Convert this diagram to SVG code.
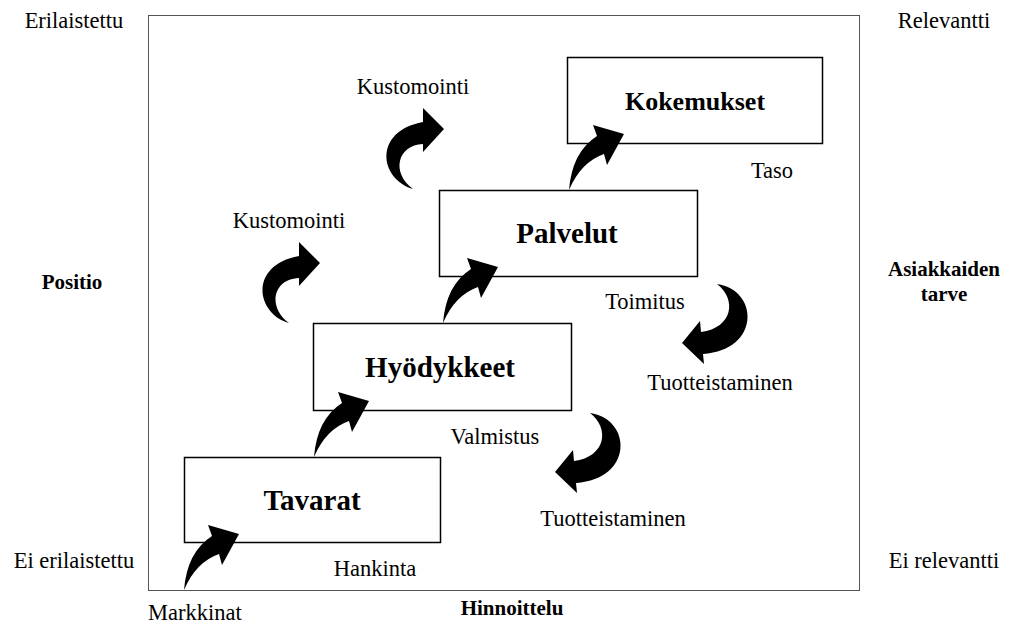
<svg xmlns="http://www.w3.org/2000/svg" width="1019" height="623" viewBox="0 0 1019 623">
<style>
text{font-family:"Liberation Serif","Times New Roman",serif;fill:#000}
.t{font-size:22.5px}
.b{font-size:21px;font-weight:bold}
.n{font-size:29px;font-weight:bold}
.box{fill:#fff;stroke:#000;stroke-width:1.5}
.ar{fill:#000}
</style>
<defs>
<path id="arA" d="M0,0 Q3,-38 28,-54 L24,-65 L55,-56 L38,-25 L35,-36 Q12,-28 0,0 Z"/>
<path id="arB" d="M0,0 C-34,-10 -40,-58 10,-67 L10,-81 L31,-60 L10,-37 L10,-45 C-16,-44 -22,-16 0,0 Z"/>
<path id="arC" d="M0,0 C42,6 44,66 -14,70 L-13,80 L-35,59 L-17,37 L-16,48 C16,44 20,15 0,0 Z"/>
</defs>
<rect x="148.5" y="15.5" width="711" height="575" fill="none" stroke="#555" stroke-width="1"/>
<g id="labels">
<text class="t" x="74" y="28" text-anchor="middle">Erilaistettu</text>
<text class="t" x="944" y="28" text-anchor="middle">Relevantti</text>
<text class="b" x="72" y="289" text-anchor="middle">Positio</text>
<text class="b" x="944" y="276" text-anchor="middle">Asiakkaiden</text>
<text class="b" x="944" y="301" text-anchor="middle">tarve</text>
<text class="t" x="74" y="568" text-anchor="middle">Ei erilaistettu</text>
<text class="t" x="944" y="568" text-anchor="middle">Ei relevantti</text>
<text class="t" x="148" y="620">Markkinat</text>
<text class="b" x="512" y="615" text-anchor="middle">Hinnoittelu</text>
<text class="t" x="375" y="576" text-anchor="middle">Hankinta</text>
<text class="t" x="495" y="444" text-anchor="middle">Valmistus</text>
<text class="t" x="613" y="526" text-anchor="middle">Tuotteistaminen</text>
<text class="t" x="645" y="309" text-anchor="middle">Toimitus</text>
<text class="t" x="720" y="390" text-anchor="middle">Tuotteistaminen</text>
<text class="t" x="772" y="178" text-anchor="middle">Taso</text>
<text class="t" x="289" y="228" text-anchor="middle">Kustomointi</text>
<text class="t" x="413" y="94" text-anchor="middle">Kustomointi</text>
</g>
<g id="tavarat"><rect class="box" x="184.5" y="457.5" width="256" height="85"/><text class="n" x="312" y="510" text-anchor="middle">Tavarat</text></g>
<g id="hyodykkeet"><rect class="box" x="313.5" y="323.5" width="258" height="87"/><text class="n" x="440" y="377" text-anchor="middle">Hyödykkeet</text></g>
<g id="palvelut"><rect class="box" x="439.5" y="190.5" width="258" height="86"/><text class="n" x="567" y="243" text-anchor="middle">Palvelut</text></g>
<g id="kokemukset"><rect class="box" x="567.5" y="57.5" width="255" height="86"/><text class="n" x="695" y="110" text-anchor="middle" style="font-size:26px">Kokemukset</text></g>
<g id="connectors">
<use href="#arA" class="ar" x="184" y="590"/>
<use href="#arA" class="ar" x="314" y="457"/>
<use href="#arA" class="ar" x="443" y="323"/>
<use href="#arA" class="ar" x="569" y="190"/>
<use href="#arB" class="ar" x="413" y="189"/>
<use href="#arB" class="ar" x="289" y="323"/>
<use href="#arC" class="ar" x="590" y="413"/>
<use href="#arC" class="ar" x="717" y="284"/>
</g>
</svg>
